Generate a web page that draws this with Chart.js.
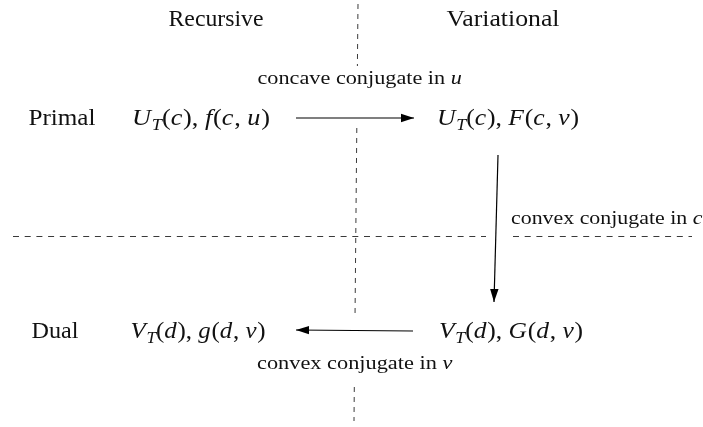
<!DOCTYPE html>
<html><head><meta charset="utf-8">
<script src="https://cdn.jsdelivr.net/npm/chart.js@4/dist/chart.umd.min.js"></script>
<style>html,body{margin:0;padding:0;background:#fff;overflow:hidden}canvas{display:block}</style>
</head><body>
<canvas id="c" width="703" height="427"></canvas>
<script>
// ---- content (text runs: r = roman, i = italic, s = italic subscript) ----
const columnHeaders = ['Recursive', 'Variational'];
const rowLabels = ['Primal', 'Dual'];
const primalRecursive = [['U','i'],['T','s'],['(','r'],['c','i'],['), ','r'],['f','i'],['(','r'],['c','i'],[', ','r'],['u','i'],[')','r']];
const primalVariational = [['U','i'],['T','s'],['(','r'],['c','i'],['), ','r'],['F','i'],['(','r'],['c','i'],[', ','r'],['\u03BD','i'],[')','r']];
const dualRecursive = [['V','i'],['T','s'],['(','r'],['d','i'],['), ','r'],['g','i'],['(','r'],['d','i'],[', ','r'],['v','i'],[')','r']];
const dualVariational = [['V','i'],['T','s'],['(','r'],['d','i'],['), ','r'],['G','i'],['(','r'],['d','i'],[', ','r'],['\u03BD','i'],[')','r']];
const edgeLabels = [
  [['concave conjugate in ','r'],['u','i']],
  [['convex conjugate in ','r'],['c','i']],
  [['convex conjugate in ','r'],['\u03BD','i']]
];

// ---- diagram geometry in axis units ----
const dividerVertical = [
  [{x:358,y:4},{x:357.4,y:66}],
  [{x:356.8,y:128},{x:355,y:318}],
  [{x:354.3,y:387},{x:354,y:421}]
];
const dividerHorizontal = [
  [{x:13,y:236.5},{x:486,y:236.5}],
  [{x:513,y:236.5},{x:692,y:236.5}]
];
const arrowTop = [{x:296,y:118},{x:414,y:118}];
const arrowRight = [{x:498,y:155},{x:494,y:302}];
const arrowBottom = [{x:413,y:331},{x:296,y:330}];

// label placement: [runs, centerX, centerY, targetWidth, fontSize]
const labelPlacement = [
  [[[columnHeaders[0],'r']], 216, 18, 95, 23],
  [[[columnHeaders[1],'r']], 503, 18, 113, 23],
  [edgeLabels[0], 360, 78, 205, 18],
  [[[rowLabels[0],'r']], 62, 117, 67, 23],
  [primalRecursive, 201, 117, 138, 23],
  [primalVariational, 508, 117, 142, 23],
  [edgeLabels[1], 607, 218, 192, 18],
  [[[rowLabels[1],'r']], 55, 330, 47, 23],
  [dualRecursive, 198, 330, 135, 23],
  [dualVariational, 511, 330, 144, 23],
  [edgeLabels[2], 355, 363, 196, 18]
];

const FAMILY = '"Liberation Serif", "Times New Roman", serif';
function fontFor(style, size){
  if (style === 's') return 'italic ' + Math.round(size*0.7) + 'px ' + FAMILY;
  if (style === 'i') return 'italic ' + size + 'px ' + FAMILY;
  return size + 'px ' + FAMILY;
}

const labelPlugin = {
  id: 'labels',
  afterDatasetsDraw(chart){
    const ctx = chart.ctx, xs = chart.scales.x, ys = chart.scales.y;
    ctx.save();
    ctx.fillStyle = '#111';
    ctx.textBaseline = 'alphabetic';
    for (const [runs, cx, cy, w, size] of labelPlacement){
      let total = 0;
      const widths = runs.map(([t, s]) => { ctx.font = fontFor(s, size); const m = ctx.measureText(t).width + (s==='i'?size*0.03:0); total += m; return m; });
      const px = xs.getPixelForValue(cx), py = ys.getPixelForValue(cy);
      const k = w / total;
      ctx.save();
      ctx.translate(px - w/2, py + size*0.33);
      ctx.scale(k, 1);
      let x = 0;
      runs.forEach(([t, s], i) => {
        ctx.font = fontFor(s, size);
        ctx.fillText(t, x, s === 's' ? size*0.22 : 0);
        x += widths[i];
      });
      ctx.restore();
    }
    ctx.restore();
  }
};

const arrowPlugin = {
  id: 'arrowheads',
  afterDatasetsDraw(chart){
    const ctx = chart.ctx;
    chart.data.datasets.forEach((ds, i) => {
      if (!ds.arrow) return;
      const pts = chart.getDatasetMeta(i).data;
      const a = pts[pts.length-2], b = pts[pts.length-1];
      const ang = Math.atan2(b.y - a.y, b.x - a.x);
      const L = 13, H = 4.2;
      ctx.save();
      ctx.translate(b.x, b.y);
      ctx.rotate(ang);
      ctx.fillStyle = '#000';
      ctx.beginPath();
      ctx.moveTo(0, 0);
      ctx.lineTo(-L, -H);
      ctx.lineTo(-L, H);
      ctx.closePath();
      ctx.fill();
      ctx.restore();
    });
  }
};

const datasets = [];
dividerVertical.forEach(seg => datasets.push({data: seg, showLine: true, borderColor: '#3a3a3a', borderWidth: 1, borderDash: [5,5], pointRadius: 0}));
dividerHorizontal.forEach(seg => datasets.push({data: seg, showLine: true, borderColor: '#3a3a3a', borderWidth: 1, borderDash: [6,5.7], pointRadius: 0}));
[arrowTop, arrowRight, arrowBottom].forEach(seg => datasets.push({data: seg, showLine: true, borderColor: '#000', borderWidth: 1.2, pointRadius: 0, arrow: true}));

new Chart(document.getElementById('c'), {
  type: 'scatter',
  data: { datasets },
  options: {
    responsive: false,
    devicePixelRatio: 1,
    animation: false,
    layout: { padding: 0 },
    plugins: { legend: { display: false }, tooltip: { enabled: false } },
    scales: {
      x: { type: 'linear', min: 0, max: 703, display: false },
      y: { type: 'linear', min: 0, max: 427, reverse: true, display: false }
    },
    elements: { line: { tension: 0 } }
  },
  plugins: [labelPlugin, arrowPlugin]
});
</script>
</body></html>
